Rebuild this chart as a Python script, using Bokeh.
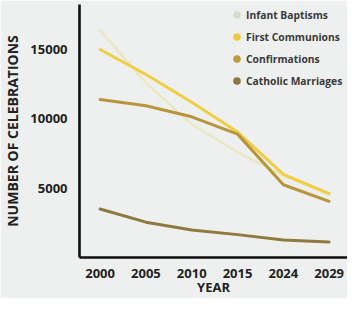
from bokeh.plotting import figure
from bokeh.models import Range1d, FixedTicker, Legend, LegendItem
from bokeh.embed import file_html
from bokeh.resources import INLINE

years = ["2000", "2005", "2010", "2015", "2024", "2029"]
infant_baptisms = [16400, 12600, 9600, 7600, 5900, 4500]
first_communions = [15000, 13200, 11200, 9050, 6000, 4600]
confirmations = [11400, 10950, 10150, 8900, 5250, 4050]
catholic_marriages = [3500, 2550, 1980, 1650, 1260, 1120]
y_ticks = [5000, 10000, 15000]

xs = list(range(len(years)))
BG = "#eef0f0"
FONT = "Open Sans"
NAN = float("nan")

p = figure(width=347, height=298, x_range=Range1d(-0.45, 5.4), y_range=Range1d(0, 18250),
           output_backend="svg", toolbar_location=None,
           min_border_left=70, min_border_right=0, min_border_top=4, min_border_bottom=36)
p.background_fill_color = BG
p.border_fill_color = BG
p.outline_line_color = None
p.grid.visible = False

series = [
    ("Infant Baptisms", infant_baptisms, "#e9e6b4", "#d9dccb", 2.5, 0.8),
    ("First Communions", first_communions, "#f1cd42", "#f0c840", 3.0, 1.0),
    ("Confirmations", confirmations, "#b6953b", "#c09a3c", 3.0, 1.0),
    ("Catholic Marriages", catholic_marriages, "#8f7a3d", "#8e7440", 3.0, 1.0),
]
items = []
for name, vals, lc, dc, w, a in series:
    p.line(xs, vals, line_color=lc, line_width=w, line_alpha=a, line_join="round", line_cap="round")
    dot = p.scatter([NAN], [NAN], marker="circle", size=8, fill_color=dc, line_color=None)
    items.append(LegendItem(label=name, renderers=[dot]))

legend = Legend(items=items, location=(148, 167), background_fill_alpha=0, border_line_color=None,
                label_text_font=FONT, label_text_font_style="bold", label_text_font_size="10.3px",
                label_text_color="#3a3a3a", glyph_width=19, glyph_height=19, label_height=19,
                label_standoff=-1, spacing=3, padding=0, margin=0)
p.add_layout(legend, "center")

for ax in (p.xaxis[0], p.yaxis[0]):
    ax.axis_line_color = "#111111"
    ax.axis_line_width = 2.6
    ax.major_tick_line_color = None
    ax.minor_tick_line_color = None
    ax.major_label_text_font = FONT
    ax.major_label_text_font_style = "bold"
    ax.major_label_text_font_size = "13px"
    ax.major_label_text_color = "#222222"
    ax.axis_label_text_font = FONT
    ax.axis_label_text_font_style = "bold"
    ax.axis_label_text_color = "#222222"

p.xaxis.ticker = FixedTicker(ticks=xs)
p.xaxis.major_label_overrides = {i: y for i, y in enumerate(years)}
p.xaxis.major_label_standoff = 5
p.xaxis.axis_label = "YEAR"
p.xaxis.axis_label_text_font_size = "13px"
p.xaxis.axis_label_standoff = -3

p.yaxis.ticker = FixedTicker(ticks=y_ticks)
p.yaxis.major_label_standoff = 6
p.yaxis.axis_label = "NUMBER OF CELEBRATIONS"
p.yaxis.axis_label_text_font_size = "14px"
p.yaxis.axis_label_standoff = 5

open("out.html", "w").write(file_html(p, INLINE))
